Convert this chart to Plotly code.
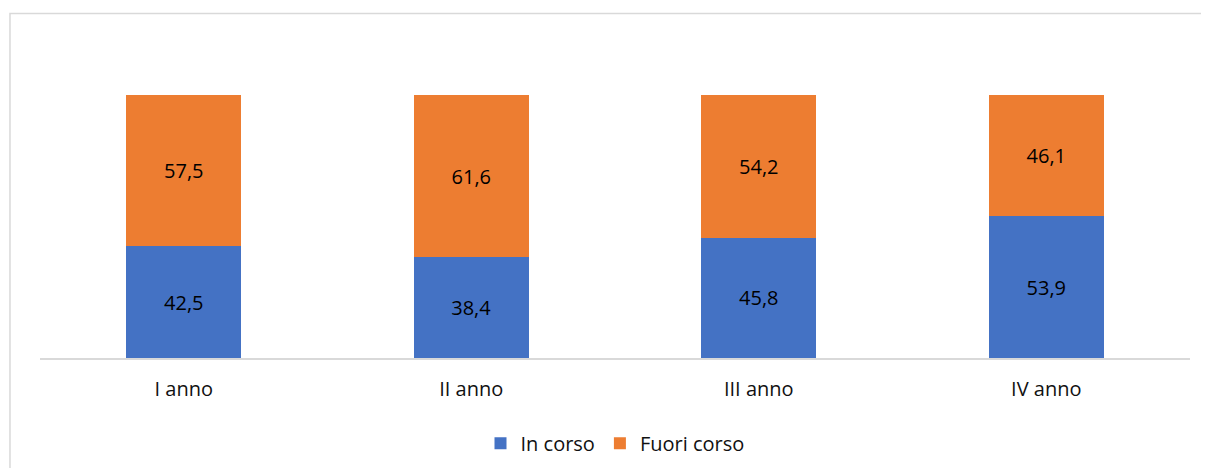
import plotly.graph_objects as go

categories = ["I anno", "II anno", "III anno", "IV anno"]
in_corso = [42.5, 38.4, 45.8, 53.9]
fuori_corso = [57.5, 61.6, 54.2, 46.1]

FONT = "Open Sans"

fig = go.Figure()
fig.add_trace(go.Bar(
    x=categories, y=in_corso, name="In corso",
    marker=dict(color="#4472C4", line=dict(width=0)),
    texttemplate="%{y:.1f}", textposition="inside", insidetextanchor="middle",
    textfont=dict(color="black", size=20, family=FONT),
))
fig.add_trace(go.Bar(
    x=categories, y=fuori_corso, name="Fuori corso",
    marker=dict(color="#ED7D31", line=dict(width=0)),
    texttemplate="%{y:.1f}", textposition="inside", insidetextanchor="middle",
    textfont=dict(color="black", size=20, family=FONT),
))

fig.update_layout(
    barmode="stack",
    bargap=0.6,
    width=1195, height=460,
    margin=dict(l=32, r=13, t=87, b=110),
    paper_bgcolor="white", plot_bgcolor="white",
    separators=", ",
    font=dict(family=FONT, size=20, color="#111111"),
    showlegend=True,
    legend=dict(orientation="h", x=0.5, xanchor="center",
                yref="container", y=0.054, yanchor="middle",
                font=dict(size=20, family=FONT), traceorder="normal",
                itemwidth=30),
    uniformtext=dict(minsize=20, mode="show"),
)
fig.update_xaxes(
    showline=True, linecolor="#d9d9d9", linewidth=1.5,
    ticks="outside", ticklen=12, tickcolor="rgba(0,0,0,0)",
    tickfont=dict(size=20, family=FONT, color="#111111"),
    showgrid=False, zeroline=False, automargin=False,
)
fig.update_yaxes(range=[0, 100], visible=False, showgrid=False, zeroline=False)

fig.add_shape(type="rect", xref="paper", yref="paper",
              x0=-0.0261, x1=1.03, y0=-0.5, y1=1.31,
              line=dict(color="#d9d9d9", width=1.5), fillcolor="rgba(0,0,0,0)",
              layer="below")

fig.write_html("out.html")
